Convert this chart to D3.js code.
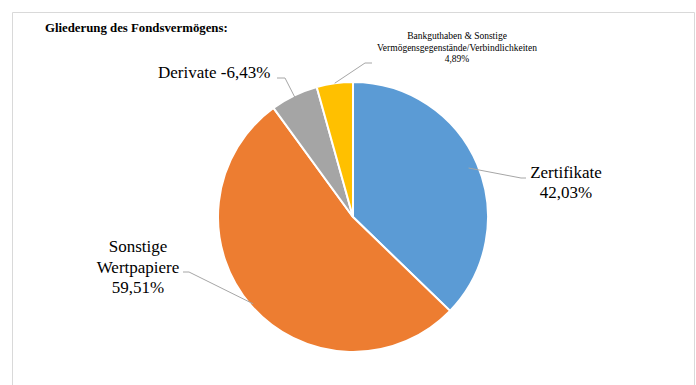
<!DOCTYPE html>
<html>
<head>
<meta charset="utf-8">
<script src="https://cdn.jsdelivr.net/npm/d3@7"></script>
<style>
  body { margin: 0; background: #fff; }
</style>
</head>
<body>
<div id="chart"></div>
<script>
// chart data
const categories = ["Zertifikate", "Sonstige Wertpapiere", "Derivate", "Bankguthaben & Sonstige Vermögensgegenstände/Verbindlichkeiten"];
const values = [42.03, 59.51, -6.43, 4.89];
const valueLabels = ["42,03%", "59,51%", "-6,43%", "4,89%"];
const colors = ["#5b9bd5", "#ed7d31", "#a5a5a5", "#ffc000"];

const width = 696;
const height = 385;
const cx = 353, cy = 217, radius = 135;
const serif = "'Liberation Serif', 'DejaVu Serif', serif";

const svg = d3.select("#chart")
  .append("svg")
    .attr("width", width)
    .attr("height", height)
    .style("font-family", serif);

// frame (top and left edges of the embedded chart area)
svg.append("path")
    .attr("d", "M12.5,385 V12.5 H694.5 V385")
    .attr("fill", "none")
    .attr("stroke", "#d9d9d9")
    .attr("stroke-width", 1);

svg.append("text")
    .attr("x", 45)
    .attr("y", 32)
    .attr("font-size", 12.8)
    .attr("font-weight", "bold")
    .style("font-family", serif)
    .text("Gliederung des Fondsvermögens:");

// pie uses the absolute size of each share
const pie = d3.pie()
    .sort(null)
    .value(d => Math.abs(d));

const arc = d3.arc()
    .innerRadius(0)
    .outerRadius(radius);

const arcs = pie(values);

const g = svg.append("g").attr("transform", `translate(${cx},${cy})`);

g.selectAll("path")
  .data(arcs)
  .join("path")
    .attr("d", arc)
    .attr("fill", (d, i) => colors[i])
    .attr("stroke", "#fff")
    .attr("stroke-width", 2);

// leader lines: point on the slice edge, elbow, end near the label
function edgePoint(d, r) {
  const a = (d.startAngle + d.endAngle) / 2;
  return [cx + Math.sin(a) * r, cy - Math.cos(a) * r];
}

const leaders = [
  { i: 0, r: 0.93, elbow: [521, 178], end: [526, 178] },
  { i: 1, r: 0.98, elbow: [189, 272], end: [183, 272] },
  { i: 2, r: 0.94, elbow: [285, 78], end: [277, 78] },
  { i: 3, r: 1.0, elbow: [365, 63], end: [372, 63] }
];

leaders.forEach(l => {
  const p = edgePoint(arcs[l.i], radius * l.r);
  svg.append("polyline")
      .attr("points", [p, l.elbow, l.end].map(q => q.join(",")).join(" "))
      .attr("fill", "none")
      .attr("stroke", "#a6a6a6")
      .attr("stroke-width", 1);
});

// labels
function label(lines, x, y, size, step, anchor) {
  const t = svg.append("text")
      .attr("x", x)
      .attr("y", y)
      .attr("font-size", size)
      .attr("text-anchor", anchor)
      .attr("fill", "#000")
      .style("font-family", serif);
  lines.forEach((s, k) => {
    t.append("tspan").attr("x", x).attr("y", y + k * step).text(s);
  });
}

label([categories[0], valueLabels[0]], 566, 178, 17, 19.5, "middle");
label(["Sonstige", "Wertpapiere", valueLabels[1]], 138, 252, 17, 20.5, "middle");
label([categories[2] + " " + valueLabels[2]], 158, 78, 17, 20, "start");
label(["Bankguthaben & Sonstige", "Vermögensgegenstände/Verbindlichkeiten", valueLabels[3]], 457, 39, 9.5, 11.5, "middle");
</script>
</body>
</html>
